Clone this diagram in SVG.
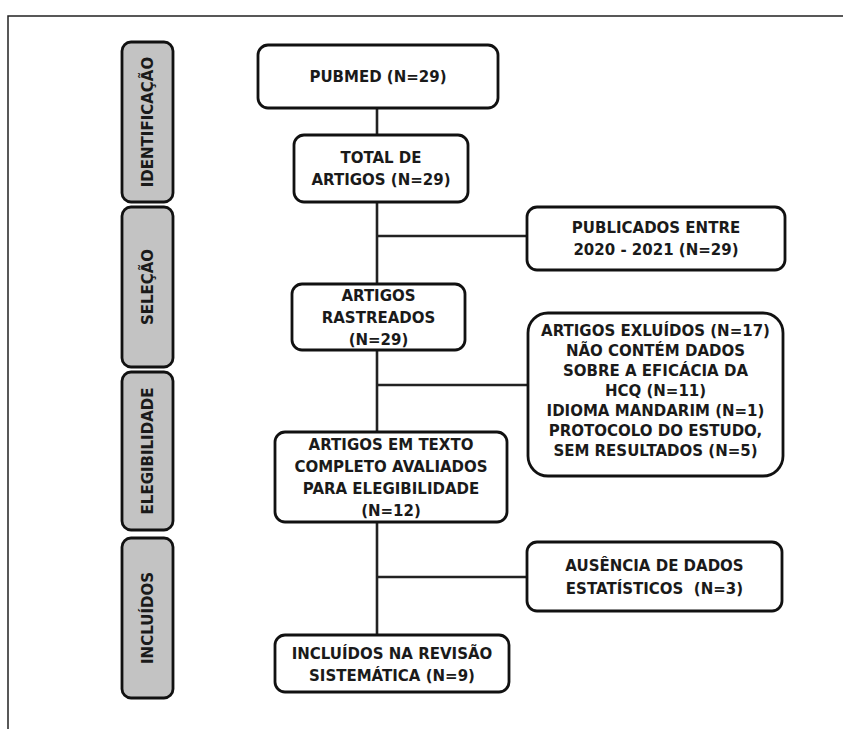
<svg xmlns="http://www.w3.org/2000/svg" width="843" height="729" viewBox="0 0 843 729">
<style>
  .bg { fill: #ffffff; }
  .frame { fill: none; stroke: #222; stroke-width: 1.5; }
  .box { fill: #ffffff; stroke: #111; stroke-width: 2.8; }
  .stage { fill: #c3c3c3; stroke: #111; stroke-width: 2.8; }
  .conn { stroke: #222; stroke-width: 2.6; fill: none; }
  text { font-family: "DejaVu Sans", "Liberation Sans", sans-serif; font-weight: bold; font-size: 15px; fill: #1a1a1a; text-anchor: middle; }
</style>
<rect class="bg" x="0" y="0" width="843" height="729"/>
<rect class="frame" x="8" y="16" width="900" height="800"/>

<g id="connectors">
  <line class="conn" x1="377" y1="108" x2="377" y2="635"/>
  <line class="conn" x1="377" y1="236" x2="527" y2="236"/>
  <line class="conn" x1="377" y1="385" x2="528" y2="385"/>
  <line class="conn" x1="377" y1="577" x2="527" y2="577"/>
</g>

<g id="stage-identificacao">
  <rect class="stage" x="122" y="42" width="51" height="160" rx="9"/>
  <text transform="translate(153 122) rotate(-90)">IDENTIFICAÇÃO</text>
</g>
<g id="stage-selecao">
  <rect class="stage" x="122" y="207" width="51" height="160" rx="9"/>
  <text transform="translate(153 287) rotate(-90)">SELEÇÃO</text>
</g>
<g id="stage-elegibilidade">
  <rect class="stage" x="122" y="372" width="51" height="158" rx="9"/>
  <text transform="translate(153 451) rotate(-90)">ELEGIBILIDADE</text>
</g>
<g id="stage-incluidos">
  <rect class="stage" x="122" y="538" width="51" height="160" rx="9"/>
  <text transform="translate(153 618) rotate(-90)">INCLUÍDOS</text>
</g>

<g id="pubmed">
  <rect class="box" x="258" y="45" width="240" height="63" rx="10"/>
  <text x="378" y="82">PUBMED (N=29)</text>
</g>
<g id="total">
  <rect class="box" x="294" y="135" width="174" height="67" rx="10"/>
  <text x="381" y="163">TOTAL DE</text>
  <text x="381" y="185">ARTIGOS (N=29)</text>
</g>
<g id="publicados">
  <rect class="box" x="527" y="207" width="258" height="63" rx="10"/>
  <text x="656" y="233">PUBLICADOS ENTRE</text>
  <text x="656" y="255">2020 - 2021 (N=29)</text>
</g>
<g id="rastreados">
  <rect class="box" x="292" y="284" width="173" height="66" rx="10"/>
  <text x="378.5" y="301">ARTIGOS</text>
  <text x="378.5" y="323">RASTREADOS</text>
  <text x="378.5" y="345">(N=29)</text>
</g>
<g id="excluidos">
  <rect class="box" x="528" y="313" width="255" height="163" rx="20"/>
  <text x="655.5" y="336">ARTIGOS EXLUÍDOS (N=17)</text>
  <text x="655.5" y="356">NÃO CONTÉM DADOS</text>
  <text x="655.5" y="376">SOBRE A EFICÁCIA DA</text>
  <text x="655.5" y="396">HCQ (N=11)</text>
  <text x="655.5" y="416">IDIOMA MANDARIM (N=1)</text>
  <text x="655.5" y="436">PROTOCOLO DO ESTUDO,</text>
  <text x="655.5" y="456">SEM RESULTADOS (N=5)</text>
</g>
<g id="texto-completo">
  <rect class="box" x="275" y="432" width="232" height="90" rx="10"/>
  <text x="391" y="450">ARTIGOS EM TEXTO</text>
  <text x="391" y="472">COMPLETO AVALIADOS</text>
  <text x="391" y="494">PARA ELEGIBILIDADE</text>
  <text x="391" y="516">(N=12)</text>
</g>
<g id="ausencia">
  <rect class="box" x="527" y="542" width="255" height="69" rx="10"/>
  <text x="654.5" y="571">AUSÊNCIA DE DADOS</text>
  <text x="654.5" y="594" xml:space="preserve">ESTATÍSTICOS  (N=3)</text>
</g>
<g id="incluidos-revisao">
  <rect class="box" x="275" y="635" width="234" height="57" rx="10"/>
  <text x="392" y="659">INCLUÍDOS NA REVISÃO</text>
  <text x="392" y="681">SISTEMÁTICA (N=9)</text>
</g>
</svg>
